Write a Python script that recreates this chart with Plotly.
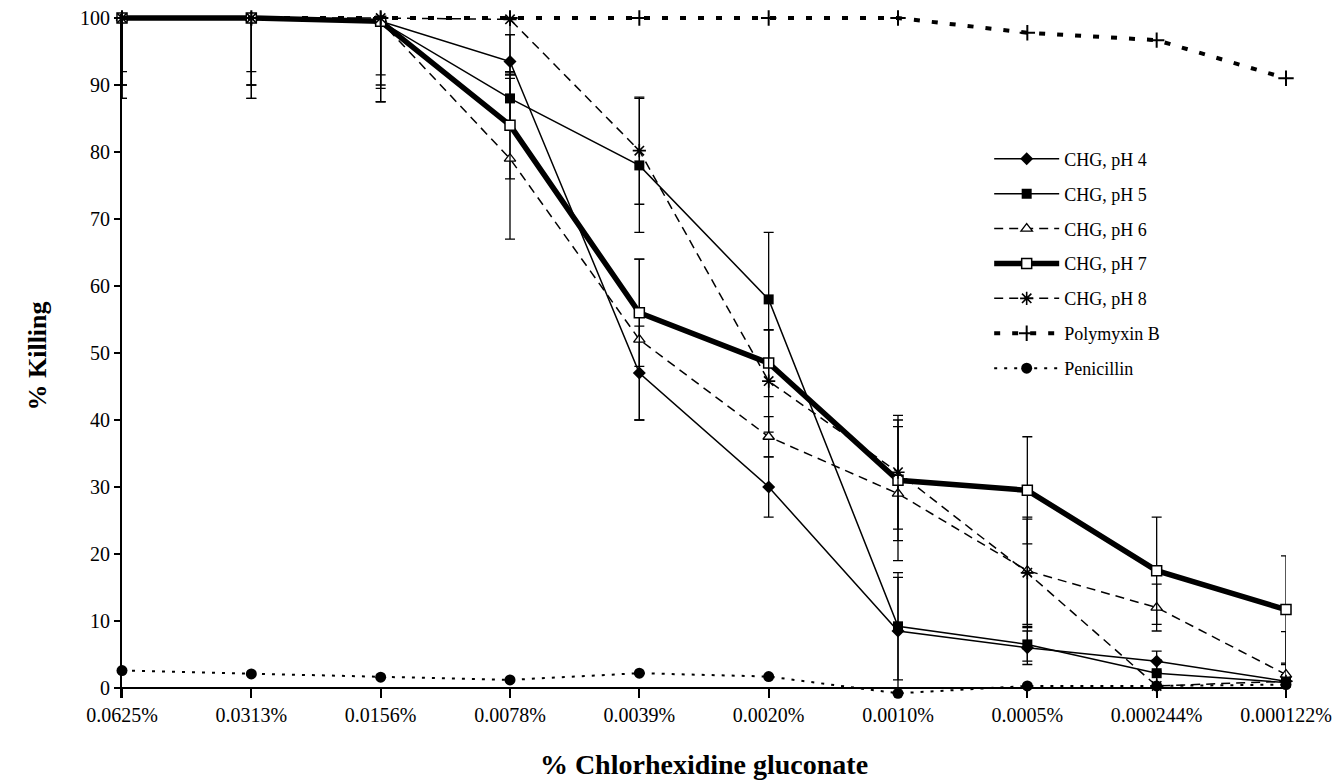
import plotly.graph_objects as go

categories = ["0.0625%", "0.0313%", "0.0156%", "0.0078%", "0.0039%",
              "0.0020%", "0.0010%", "0.0005%", "0.000244%", "0.000122%"]

ph4 = [100, 100, 99.5, 93.5, 47, 30, 8.5, 6, 4, 1]
ph4_plus = [0, 0, 0, 4, 7, 4.5, 8, 2.5, 1.5, 1]
ph4_minus = [12, 12, 12, 2, 7, 4.5, 8.5, 2.5, 1.5, 1]

ph5 = [100, 100, 99.5, 88, 78, 58, 9.2, 6.5, 2.2, 0.8]
ph5_plus = [0, 0, 0, 3.5, 10, 10, 8, 2.5, 2, 1]
ph5_minus = [8, 8, 8, 3.5, 10, 10, 8, 2.5, 2, 0.8]

ph6 = [100, 100, 99.5, 79, 52, 37.5, 29, 17.5, 12, 2]
ph6_plus = [0, 0, 0, 12, 12, 3, 10, 8, 3.5, 6.4]
ph6_minus = [10, 10, 10, 12, 12, 3, 10, 8, 3.5, 2]

ph7 = [100, 100, 99.5, 84, 56, 48.5, 31, 29.5, 17.5, 11.7]
ph7_plus = [0, 0, 0, 8, 8, 5, 9, 8, 8, 8]
ph7_minus = [10, 10, 9.5, 8, 8, 5, 9, 8, 8, 8]

ph8 = [100, 100, 100, 99.8, 80.2, 45.8, 32.2, 17.2, 0.3, 1]
ph8_plus = [0, 0, 0, 0, 8, 7.6, 8.5, 8, 2, 2.5]
ph8_minus = [12, 12, 12.5, 8, 8, 7.6, 8.5, 8, 0.3, 1]

polymyxin = [100, 100, 100, 100, 100, 100, 100, 97.8, 96.7, 91]
penicillin = [2.6, 2.1, 1.6, 1.2, 2.2, 1.7, -0.8, 0.3, 0.3, 0.5]

FONT = "Liberation Serif"
Y_MIN, Y_MAX = -1.5, 100.6


def err(plus, minus):
    return dict(type="data", symmetric=False, array=plus, arrayminus=minus,
                color="black", thickness=1.3, width=5)


fig = go.Figure()

series = [
    ("CHG, pH 4", ph4, ph4_plus, ph4_minus, dict(width=1.5, dash="solid"),
     dict(symbol="diamond", size=10, color="black")),
    ("CHG, pH 5", ph5, ph5_plus, ph5_minus, dict(width=1.5, dash="solid"),
     dict(symbol="square", size=10, color="black")),
    ("CHG, pH 6", ph6, ph6_plus, ph6_minus, dict(width=1.5, dash="9px,6px"),
     dict(symbol="triangle-up", size=10, color="white", line=dict(color="black", width=1.3))),
    ("CHG, pH 7", ph7, ph7_plus, ph7_minus, dict(width=5.5, dash="solid"),
     dict(symbol="square", size=10, color="white", line=dict(color="black", width=1.5))),
    ("CHG, pH 8", ph8, ph8_plus, ph8_minus, dict(width=1.5, dash="9px,6px"),
     dict(symbol="asterisk-open", size=11, color="black", line=dict(color="black", width=1.6))),
]

for i, (name, vals, plus, minus, line, marker) in enumerate(series):
    fig.add_trace(go.Scatter(
        x=categories, y=vals, name=name, mode="lines+markers",
        line=dict(color="black", **line), marker=marker,
        error_y=err(plus, minus), cliponaxis=False, legendgroup=str(i)))

fig.add_trace(go.Scatter(
    x=categories, y=polymyxin, name="Polymyxin B", mode="lines+markers",
    line=dict(color="black", width=4, dash="6px,12px"),
    marker=dict(symbol="cross-thin-open", size=11, color="black",
                line=dict(color="black", width=2)),
    cliponaxis=False, legendgroup="5"))

fig.add_trace(go.Scatter(
    x=categories, y=penicillin, name="Penicillin", mode="lines+markers",
    line=dict(color="black", width=2, dash="3px,7px"),
    marker=dict(symbol="circle", size=11, color="black"),
    cliponaxis=False, legendgroup="6"))

zero_pos = (0 - Y_MIN) / (Y_MAX - Y_MIN)

fig.update_layout(
    width=1343, height=784,
    margin=dict(l=122, r=57, t=14, b=86),
    paper_bgcolor="white", plot_bgcolor="white",
    font=dict(family=FONT, color="black", size=20),
    showlegend=True,
    legend=dict(x=0.745, y=0.815, xanchor="left", yanchor="top",
                font=dict(family=FONT, size=18, color="black"),
                bgcolor="rgba(0,0,0,0)", tracegroupgap=8.5, itemwidth=65,
                traceorder="grouped"),
    xaxis=dict(type="category", range=[0, 9], anchor="free", position=zero_pos,
               automargin=False,
               showline=True, linecolor="black", linewidth=2,
               ticks="outside", ticklen=9, tickwidth=1.5, tickcolor="black",
               showgrid=False, zeroline=False,
               tickfont=dict(family=FONT, size=20),
               title=dict(text="<b>% Chlorhexidine gluconate</b>",
                          font=dict(family=FONT, size=28), standoff=28)),
    yaxis=dict(range=[Y_MIN, Y_MAX], tickvals=list(range(0, 101, 10)),
               automargin=False,
               showline=True, linecolor="black", linewidth=2,
               ticks="outside", ticklen=6, tickwidth=1.5, tickcolor="black",
               showgrid=False, zeroline=False,
               tickfont=dict(family=FONT, size=20),
               title=dict(text="<b>% Killing</b>",
                          font=dict(family=FONT, size=26), standoff=26)),
)

fig.write_html("out.html")
